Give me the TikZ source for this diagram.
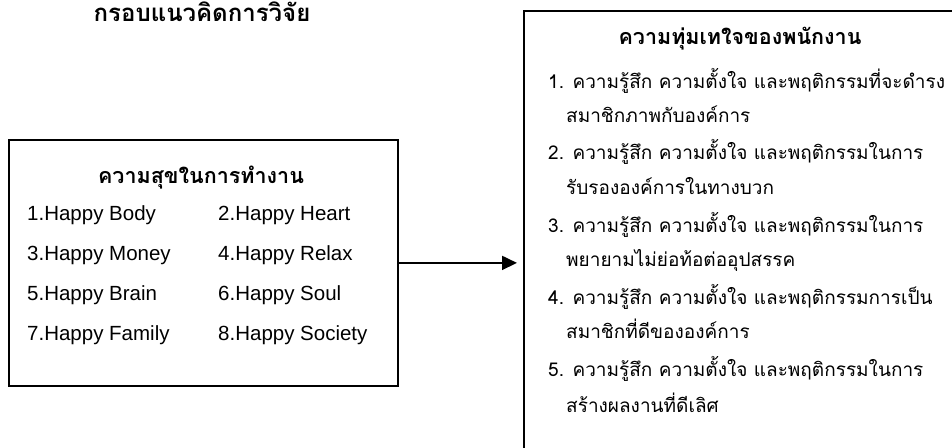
\documentclass[tikz,border=0pt]{standalone}
\usepackage{fontspec}
\setmainfont{Liberation Sans}
\newfontfamily\thai[Script=Thai]{Loma}
\usetikzlibrary{arrows.meta}
\begin{document}
\begin{tikzpicture}[x=1pt,y=-1pt,
  box/.style={draw,line width=1.8pt,inner sep=0pt,anchor=north west},
  thaitxt/.style={inner sep=0pt,anchor=west,text height=14pt,text depth=6pt,font=\thai\fontsize{19}{22}\selectfont},
  thaihead/.style={inner sep=0pt,text height=15pt,text depth=6pt,font=\thai\bfseries\fontsize{21.5}{25}\selectfont},
  happy/.style={inner sep=0pt,anchor=base west,font=\fontsize{20.5}{24}\selectfont},
  link/.style={line width=1.8pt,-{Triangle[length=15pt,width=14pt]}}]
\useasboundingbox (0,0) rectangle (952,447);
\clip (0,0) rectangle (952,447);
% title
\node[thaihead,font=\thai\bfseries\fontsize{24}{28}\selectfont] (title) at (202,17) {กรอบแนวคิดการวิจัย};
% left box
\node[box,minimum width=389pt,minimum height=246pt] (lbox) at (8,139) {};
\node[thaihead] (lhead) at (201,179) {ความสุขในการทำงาน};
\node[happy] (h1) at (27,220) {1.Happy Body};
\node[happy] (h2) at (218,220) {2.Happy Heart};
\node[happy] (h3) at (27,260) {3.Happy Money};
\node[happy] (h4) at (218,260) {4.Happy Relax};
\node[happy] (h5) at (27,300) {5.Happy Brain};
\node[happy] (h6) at (218,300) {6.Happy Soul};
\node[happy] (h7) at (27,340) {7.Happy Family};
\node[happy] (h8) at (218,340) {8.Happy Society};
% right box
\node[box,minimum width=470pt,minimum height=480pt] (rbox) at (523,10) {};
\node[thaihead] (rhead) at (740,40) {ความทุ่มเทใจของพนักงาน};
\node[thaitxt] (r1) at (548,84) {1. ความรู้สึก ความตั้งใจ และพฤติกรรมที่จะดำรง};
\node[thaitxt] (r1b) at (566,118) {สมาชิกภาพกับองค์การ};
\node[thaitxt] (r2) at (548,155) {2. ความรู้สึก ความตั้งใจ และพฤติกรรมในการ};
\node[thaitxt] (r2b) at (566,190) {รับรององค์การในทางบวก};
\node[thaitxt] (r3) at (548,228) {3. ความรู้สึก ความตั้งใจ และพฤติกรรมในการ};
\node[thaitxt] (r3b) at (566,262) {พยายามไม่ย่อท้อต่ออุปสรรค};
\node[thaitxt] (r4) at (548,300) {4. ความรู้สึก ความตั้งใจ และพฤติกรรมการเป็น};
\node[thaitxt] (r4b) at (566,334) {สมาชิกที่ดีขององค์การ};
\node[thaitxt] (r5) at (548,372) {5. ความรู้สึก ความตั้งใจ และพฤติกรรมในการ};
\node[thaitxt] (r5b) at (566,408) {สร้างผลงานที่ดีเลิศ};
% connector
\draw[link] (lbox.east) -- ([xshift=-6pt]rbox.west |- lbox.east);
\end{tikzpicture}
\end{document}
